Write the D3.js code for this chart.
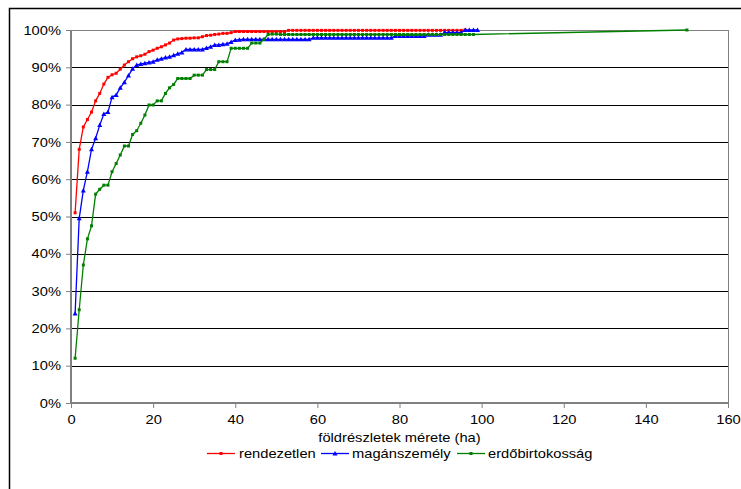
<!DOCTYPE html>
<html><head><meta charset="utf-8">
<script src="https://cdn.jsdelivr.net/npm/d3@7/dist/d3.min.js"></script>
<style>body{margin:0;background:#fff}svg{display:block;font-family:"Liberation Sans",Arial,sans-serif}</style>
</head><body><svg id="c" width="741" height="489"></svg>
<script>
const seriesNames = ["rendezetlen", "magánszemély", "erdőbirtokosság"];
const seriesColors = ["#ff0000", "#0000ff", "#008000"];
const yTicks = [0,10,20,30,40,50,60,70,80,90,100];
const xTicks = [0,20,40,60,80,100,120,140,160];
const xTitle = "földrészletek mérete (ha)";

const redX = d3.range(1, 97);
const redY = [51,68,74,76,78,81,83,85.5,87.3,88,88.4,89.5,90.6,91.5,92.3,92.8,93.1,93.5,94.2,94.6,
  95.1,95.5,96,96.5,97.3,97.6,97.7,97.8,97.8,97.9,97.9,98.2,98.5,98.6,98.8,98.9,99.1,99.1,99.3,99.6,
  99.6,99.6,99.6,99.6,99.6,99.6,99.6,99.6,99.6,99.6,99.6,99.6,99.9,99.9,99.9,99.9,99.9,99.9,99.9,99.9,
  99.9,99.9,99.9,99.9,99.9,99.9,99.9,99.9,99.9,99.9,99.9,99.9,99.9,99.9,99.9,99.9,99.9,99.9,99.9,99.9,
  99.9,99.9,99.9,99.9,99.9,99.9,99.9,99.9,99.9,99.9,99.9,99.9,99.9,99.9,99.9,100];

const blueX = d3.range(1, 100);
const blueY = [24,49.5,57,62,68,71,74.5,77.5,78,82,82.6,84.5,86,87.8,89.6,90.6,90.9,91.1,91.3,91.5,
  92,92.3,92.6,92.8,93.2,93.6,94,94.8,94.8,94.8,94.8,94.8,95.2,95.5,96,96,96.2,96.3,96.8,97.3,
  97.4,97.5,97.5,97.5,97.5,97.5,97.5,97.5,97.5,97.5,97.5,97.5,97.5,97.5,97.5,97.5,97.5,97.5,97.9,97.9,
  97.9,97.9,97.9,97.9,97.9,97.9,97.9,97.9,97.9,97.9,97.9,97.9,97.9,97.9,97.9,97.9,97.9,97.9,98.4,98.4,
  98.4,98.4,98.4,98.4,98.4,98.4,98.7,98.7,98.7,98.7,99.3,99.3,99.3,99.3,99.3,100,100,100,100];

const greenX = d3.range(1, 99).concat([150]);
const greenY = [12,25,37,44,47.5,56,57.3,58.4,58.4,62,64.2,66.5,68.9,68.9,72,73,75,77.2,79.9,79.9,
  81,81,83,84.5,85.4,87,87,87,87,87.9,87.9,87.9,89.4,89.4,89.4,91.5,91.5,91.5,95.1,95.1,
  95.1,95.1,95.1,96.5,96.5,96.5,97.5,98.8,98.9,98.9,98.8,98.8,98.8,98.8,98.8,98.8,98.8,98.8,98.8,98.8,
  98.8,98.8,98.8,98.8,98.8,98.8,98.8,98.8,98.8,98.8,98.8,98.8,98.8,98.8,98.8,98.8,98.8,98.8,98.8,98.8,
  98.8,98.8,98.8,98.8,98.8,98.8,98.8,98.8,98.8,98.8,98.8,98.8,98.8,98.8,98.8,98.8,98.8,98.8,100];

const series = [
  {name: seriesNames[0], color: seriesColors[0], xs: redX, ys: redY, marker: "square"},
  {name: seriesNames[1], color: seriesColors[1], xs: blueX, ys: blueY, marker: "triangle"},
  {name: seriesNames[2], color: seriesColors[2], xs: greenX, ys: greenY, marker: "square"}
];

const svg = d3.select("#c");
const L = 71, R = 728, T = 30, B = 403;
const SX = 1.13;
const x = d3.scaleLinear().domain([0,160]).range([L,R]);
const y = d3.scaleLinear().domain([0,100]).range([B,T]);

// outer border
svg.append("rect").attr("x",9.5).attr("y",8.5).attr("width",800).attr("height",600)
  .attr("fill","none").attr("stroke","#000").attr("stroke-width",1.5);

// gridlines
svg.append("g").selectAll("line").data(yTicks.filter(d=>d>0)).join("line")
  .attr("x1",L).attr("x2",R).attr("y1",d=>Math.round(y(d))+0.5).attr("y2",d=>Math.round(y(d))+0.5)
  .attr("stroke",d=>d===100?"#808080":"#000").attr("stroke-width",1);
svg.append("line").attr("x1",R+0.5).attr("x2",R+0.5).attr("y1",T).attr("y2",B).attr("stroke","#808080");

// axes
const yAxis = svg.append("g").attr("transform",`translate(${L},0)`)
  .call(d3.axisLeft(y).tickValues(yTicks).tickFormat(d=>d+"%").tickSize(5).tickPadding(0));
const xAxis = svg.append("g").attr("transform",`translate(0,${B})`)
  .call(d3.axisBottom(x).tickValues(xTicks).tickSize(5).tickPadding(7));
[yAxis,xAxis].forEach(g=>{
  g.select(".domain").attr("stroke","#808080").attr("stroke-width",2);
  g.selectAll(".tick line").attr("stroke","#808080");
  g.selectAll("text").attr("font-size",13).attr("fill","#000").attr("font-family","Liberation Sans, Arial, sans-serif");
});
yAxis.selectAll(".tick text").attr("x",0).attr("transform",`translate(-10,0) scale(${SX},1)`);
xAxis.selectAll(".tick text").attr("transform",`scale(${SX},1)`);
xAxis.select(".domain").attr("d",`M${L},0H${R}`);
yAxis.select(".domain").attr("d",`M0,${B}V${T}`);

svg.append("text").attr("transform",`translate(${(L+R)/2},442) scale(${SX},1)`).attr("text-anchor","middle")
  .attr("font-size",13).text(xTitle);

function drawMarker(g, type, cx, cy, color){
  if(type==="triangle"){
    g.append("path").attr("d",`M${cx},${cy-2.5}L${cx+2.5},${cy+2}L${cx-2.5},${cy+2}Z`).attr("fill",color);
  } else {
    g.append("rect").attr("x",cx-1.5).attr("y",cy-1.5).attr("width",3).attr("height",3).attr("fill",color);
  }
}

const line = d3.line().x(d=>x(d[0])).y(d=>y(d[1]));
series.forEach(s=>{
  const pts = s.xs.map((v,i)=>[v, s.ys[i]]);
  const g = svg.append("g");
  g.append("path").datum(pts).attr("d",line).attr("fill","none").attr("stroke",s.color).attr("stroke-width",1.3);
  pts.forEach(p=>drawMarker(g, s.marker, x(p[0]), y(p[1]), s.color));
});

// legend
const legendPos = [[207,239],[321,352],[457,488]];
series.forEach((s,i)=>{
  const [lx, tx] = legendPos[i];
  const g = svg.append("g");
  g.append("line").attr("x1",lx).attr("x2",lx+28).attr("y1",453.5).attr("y2",453.5).attr("stroke",s.color).attr("stroke-width",1.3);
  drawMarker(g, s.marker, lx+14, 453.5, s.color);
  g.append("text").attr("transform",`translate(${tx},458) scale(${SX},1)`).attr("font-size",13).text(s.name);
});
</script></body></html>
